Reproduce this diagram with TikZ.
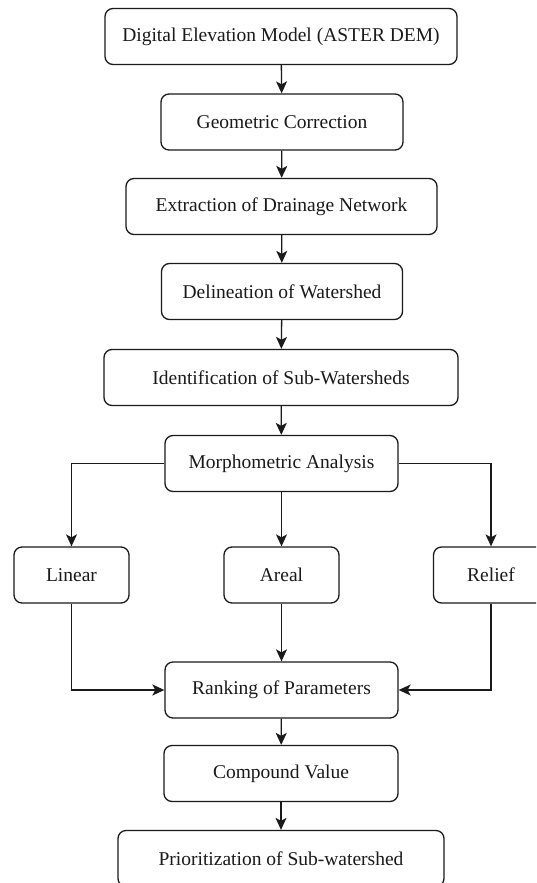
\documentclass[tikz,border=0pt]{standalone}
\usepackage{fontspec}
\setmainfont{Liberation Serif}
\usetikzlibrary{arrows.meta,positioning}
\definecolor{flowInk}{HTML}{1A1A1A}
\tikzset{
  flowbox/.style={draw=flowInk,line width=1.3pt,rounded corners=8pt,fill=white,text=flowInk,
    inner sep=0pt,minimum height=56pt,font=\fontsize{19.5}{22}\selectfont},
  flowarrow/.style={draw=flowInk,line width=1.3pt,-{Stealth[length=12pt,width=11pt,inset=3pt]}}
}

\begin{document}
\begin{tikzpicture}[x=1pt,y=-1pt]
        \useasboundingbox (0,0) rectangle (536,883);
        \begin{scope}
          \clip (0,0) rectangle (536,883);
          % main chain
          \node[flowbox,minimum width=352pt] (dem) at (281,36.5) {Digital Elevation Model (ASTER DEM)};
          \node[flowbox,minimum width=242pt] (geo) at (282,122) {Geometric Correction};
          \node[flowbox,minimum width=311pt] (drain) at (281.5,206.5) {Extraction of Drainage Network};
          \node[flowbox,minimum width=241pt] (delin) at (282,291.5) {Delineation of Watershed};
          \node[flowbox,minimum width=354pt] (subws) at (281,377.5) {Identification of Sub-Watersheds};
          \node[flowbox,minimum width=233pt] (morph) at (281.5,463.5) {Morphometric Analysis};
          % parameter groups
          \node[flowbox,minimum width=115pt] (linear) at (71.5,575) {Linear};
          \node[flowbox,minimum width=115pt] (areal) at (281.5,575) {Areal};
          \node[flowbox,minimum width=115pt] (relief) at (491,575) {Relief};
          \node[flowbox,minimum width=233pt] (rank) at (281.5,690) {Ranking of Parameters};
          \node[flowbox,minimum width=234pt] (comp) at (281,773.5) {Compound Value};
          \node[flowbox,minimum width=326pt] (prior) at (281,858.5) {Prioritization of Sub-watershed};

          \draw[flowarrow] (dem) -- (geo);
          \draw[flowarrow] (geo) -- (drain);
          \draw[flowarrow] (drain) -- (delin);
          \draw[flowarrow] (delin) -- (subws);
          \draw[flowarrow] (subws) -- (morph);
          \draw[flowarrow] (morph.west) -| (linear.north);
          \draw[flowarrow] (morph) -- (areal);
          \draw[flowarrow] (morph.east) -| (relief.north);
          \draw[flowarrow] (linear.south) |- (rank.west);
          \draw[flowarrow] (areal) -- (rank);
          \draw[flowarrow] (relief.south) |- (rank.east);
          \draw[flowarrow] (rank) -- (comp);
          \draw[flowarrow] (comp) -- (prior);
        \end{scope}
      \end{tikzpicture}
\end{document}
